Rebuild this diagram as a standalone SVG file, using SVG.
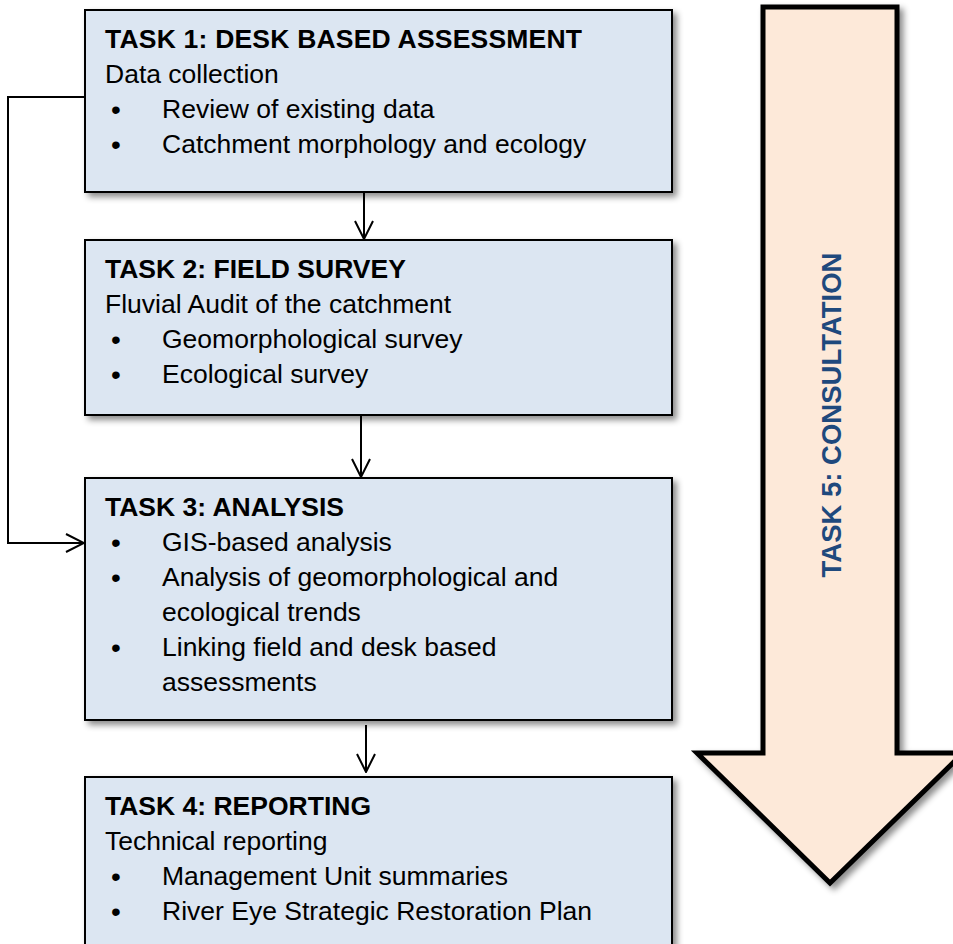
<svg xmlns="http://www.w3.org/2000/svg" width="953" height="944" viewBox="0 0 953 944">
<defs>
<filter id="sh" x="-10%" y="-10%" width="130%" height="130%">
<feDropShadow dx="4" dy="4" stdDeviation="3" flood-color="#000" flood-opacity="0.45"/>
</filter>
<marker id="ah" viewBox="0 0 20 20" refX="19" refY="10" markerWidth="20" markerHeight="20" markerUnits="userSpaceOnUse" orient="auto">
<path d="M1,1 L19,10 L1,19" fill="none" stroke="#000" stroke-width="2"/>
</marker>
<style>
.box{fill:#dce6f2;stroke:#000;stroke-width:2;filter:url(#sh)}
text{font-family:"Liberation Sans",Arial,sans-serif;font-size:26.5px;fill:#000}
.t{font-weight:bold}
.b{font-size:28px}
.c{stroke:#000;stroke-width:2;fill:none}
</style>
</defs>
<g id="consultation">
<polygon points="763,7 897,7 897,753 963,753 830,883 697,753 763,753" fill="#fde9d9" stroke="#000" stroke-width="5" stroke-linejoin="miter" filter="url(#sh)"/>
<text transform="translate(841,415) rotate(-90)" text-anchor="middle" class="t" style="fill:#1f497d;font-size:27.5px">TASK 5: CONSULTATION</text>
</g>
<g id="task1">
<rect class="box" x="85" y="10" width="587" height="182"/>
<text class="t" x="105" y="48" textLength="477">TASK 1: DESK BASED ASSESSMENT</text>
<text x="105" y="83">Data collection</text>
<text class="b" x="111" y="119">•</text><text x="162" y="118">Review of existing data</text>
<text class="b" x="111" y="154">•</text><text x="162" y="153">Catchment morphology and ecology</text>
</g>
<g id="task2">
<rect class="box" x="85" y="240" width="587" height="175"/>
<text class="t" x="105" y="278">TASK 2: FIELD SURVEY</text>
<text x="105" y="313">Fluvial Audit of the catchment</text>
<text class="b" x="111" y="349">•</text><text x="162" y="348">Geomorphological survey</text>
<text class="b" x="111" y="384">•</text><text x="162" y="383">Ecological survey</text>
</g>
<g id="task3">
<rect class="box" x="85" y="478" width="587" height="242"/>
<text class="t" x="105" y="516">TASK 3: ANALYSIS</text>
<text class="b" x="111" y="552">•</text><text x="162" y="551">GIS-based analysis</text>
<text class="b" x="111" y="587">•</text><text x="162" y="586">Analysis of geomorphological and</text>
<text x="162" y="621">ecological trends</text>
<text class="b" x="111" y="657">•</text><text x="162" y="656">Linking field and desk based</text>
<text x="162" y="691">assessments</text>
</g>
<g id="task4">
<rect class="box" x="85" y="777" width="587" height="180"/>
<text class="t" x="105" y="815">TASK 4: REPORTING</text>
<text x="105" y="850">Technical reporting</text>
<text class="b" x="111" y="886">•</text><text x="162" y="885">Management Unit summaries</text>
<text class="b" x="111" y="921">•</text><text x="162" y="920">River Eye Strategic Restoration Plan</text>
</g>
<g id="connectors">
<line class="c" x1="364" y1="193" x2="364" y2="239" marker-end="url(#ah)"/>
<line class="c" x1="361" y1="416" x2="361" y2="477" marker-end="url(#ah)"/>
<line class="c" x1="366" y1="725" x2="366" y2="772" marker-end="url(#ah)"/>
<polyline class="c" points="85,97 8,97 8,543 84,543" marker-end="url(#ah)"/>
</g>
</svg>
